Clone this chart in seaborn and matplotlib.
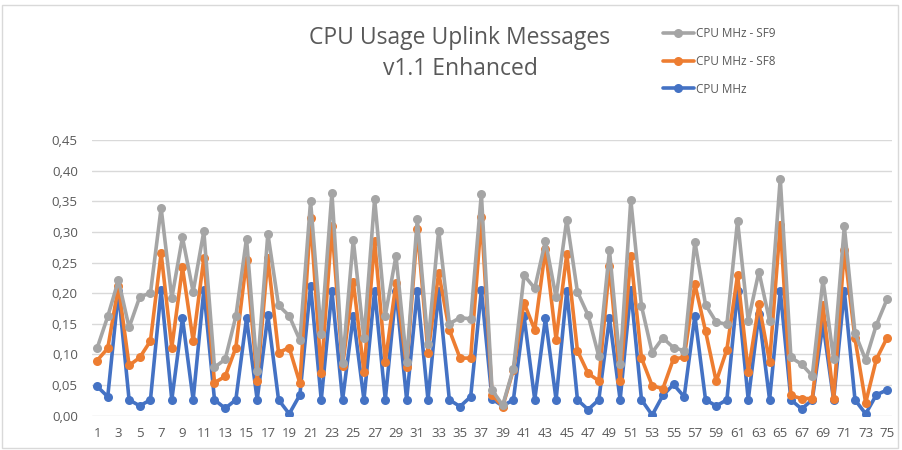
import numpy as np
import pandas as pd
import matplotlib
matplotlib.use("Agg")
import matplotlib.pyplot as plt
import seaborn as sns
from matplotlib.patches import Rectangle

# message index 1..75
msg = list(range(1, 76))

cpu_sf9 = [0.110, 0.162, 0.221, 0.144, 0.194, 0.200, 0.339, 0.192, 0.291, 0.202,
           0.301, 0.079, 0.092, 0.162, 0.289, 0.073, 0.297, 0.180, 0.163, 0.123,
           0.350, 0.133, 0.364, 0.086, 0.287, 0.126, 0.354, 0.163, 0.261, 0.088,
           0.321, 0.117, 0.302, 0.150, 0.160, 0.158, 0.362, 0.042, 0.017, 0.077,
           0.229, 0.208, 0.285, 0.193, 0.320, 0.202, 0.164, 0.097, 0.270, 0.084,
           0.352, 0.179, 0.103, 0.127, 0.111, 0.106, 0.284, 0.181, 0.153, 0.149,
           0.318, 0.155, 0.235, 0.155, 0.387, 0.095, 0.084, 0.065, 0.222, 0.092,
           0.309, 0.135, 0.091, 0.148, 0.190]

cpu_sf8 = [0.090, 0.110, 0.211, 0.082, 0.095, 0.122, 0.265, 0.111, 0.242, 0.122,
           0.257, 0.054, 0.064, 0.111, 0.254, 0.057, 0.257, 0.103, 0.111, 0.053,
           0.322, 0.070, 0.309, 0.081, 0.219, 0.072, 0.285, 0.088, 0.216, 0.079,
           0.305, 0.103, 0.233, 0.140, 0.094, 0.094, 0.324, 0.034, 0.015, 0.075,
           0.184, 0.140, 0.272, 0.124, 0.264, 0.106, 0.069, 0.057, 0.245, 0.056,
           0.260, 0.094, 0.049, 0.044, 0.093, 0.095, 0.215, 0.138, 0.056, 0.108,
           0.230, 0.072, 0.182, 0.088, 0.312, 0.033, 0.028, 0.028, 0.181, 0.027,
           0.271, 0.126, 0.021, 0.092, 0.127]

cpu_base = [0.048, 0.031, 0.203, 0.026, 0.016, 0.026, 0.205, 0.026, 0.159, 0.026,
            0.205, 0.026, 0.012, 0.026, 0.159, 0.026, 0.164, 0.026, 0.003, 0.034,
            0.212, 0.026, 0.204, 0.026, 0.163, 0.026, 0.204, 0.026, 0.204, 0.026,
            0.204, 0.026, 0.203, 0.026, 0.015, 0.031, 0.205, 0.027, 0.016, 0.026,
            0.162, 0.026, 0.159, 0.026, 0.204, 0.026, 0.010, 0.026, 0.159, 0.026,
            0.205, 0.026, 0.001, 0.033, 0.051, 0.031, 0.163, 0.026, 0.016, 0.026,
            0.204, 0.026, 0.166, 0.026, 0.204, 0.026, 0.011, 0.026, 0.150, 0.026,
            0.204, 0.026, 0.003, 0.034, 0.042]

series_names = ["CPU MHz", "CPU MHz - SF8", "CPU MHz - SF9"]
series_colors = ["#4472C4", "#ED7D31", "#A5A5A5"]

df = pd.DataFrame({
    "msg": msg * 3,
    "value": cpu_base + cpu_sf8 + cpu_sf9,
    "series": sum([[s] * len(msg) for s in series_names], []),
})

sns.set_style("white")
plt.rcParams["font.family"] = ["Open Sans", "DejaVu Sans"]

fig = plt.figure(figsize=(9.02, 4.5), dpi=100)
ax = fig.add_axes([0.1017, 0.0762, 0.9893 - 0.1017, 0.689 - 0.0762])

for name, col in zip(series_names, series_colors):
    sub = df[df["series"] == name]
    sns.lineplot(data=sub, x="msg", y="value", ax=ax, color=col, lw=2.6,
                 marker="o", markersize=6.5, markeredgewidth=0, label=name)

ax.set_xlim(0.5, 75.5)
ax.set_ylim(0, 0.45)
ax.set_yticks(np.arange(0, 0.4501, 0.05))
ax.set_yticklabels([f"{v:.2f}".replace(".", ",") for v in np.arange(0, 0.4501, 0.05)])
ax.set_xticks(msg[::2])
ax.set_xticklabels([str(m) for m in msg[::2]])
ax.tick_params(axis="both", length=0, labelsize=9.5, colors="#595959")
ax.tick_params(axis="y", pad=10)
ax.tick_params(axis="x", pad=8)
ax.set_xlabel("")
ax.set_ylabel("")
ax.yaxis.grid(True, color="#D9D9D9", lw=1)
ax.set_axisbelow(True)
for sp in ax.spines.values():
    sp.set_visible(False)

# legend in reverse order, top right
h, l = ax.get_legend_handles_labels()
ax.legend(h[::-1], l[::-1], loc="upper left", bbox_to_anchor=(663 / 902, 1 - 27 / 450),
          bbox_transform=fig.transFigure, frameon=False, fontsize=8.5,
          labelcolor="#595959", handlelength=2.6, handletextpad=0.2,
          labelspacing=1.25, borderpad=0, borderaxespad=0)

fig.text(460 / 902, 1 - 38 / 450, "CPU Usage Uplink Messages", ha="center", va="center",
         fontsize=16.5, color="#595959")
fig.text(460 / 902, 1 - 69 / 450, "v1.1 Enhanced", ha="center", va="center",
         fontsize=16.5, color="#595959")

fig.patches.append(Rectangle((0.002, 0.004), 0.994, 0.984, transform=fig.transFigure,
                             fill=False, edgecolor="#D9D9D9", lw=1))

fig.savefig("out.png", dpi=100)
